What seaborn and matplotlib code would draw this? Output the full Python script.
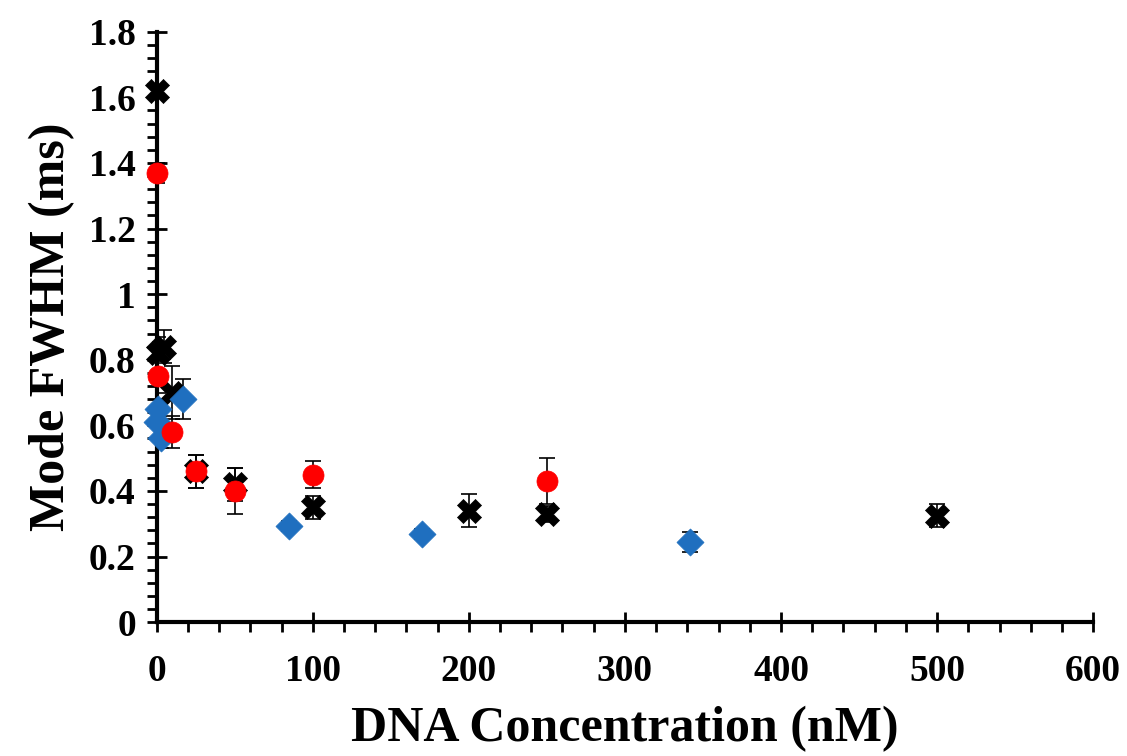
import matplotlib
matplotlib.use("Agg")
import matplotlib.pyplot as plt
import seaborn as sns
import pandas as pd
import numpy as np
from matplotlib.ticker import MultipleLocator

# Data
red_x = [0.1, 1, 10, 25, 50, 100, 250]
red_y = [1.37, 0.75, 0.58, 0.46, 0.40, 0.45, 0.43]
red_err = [0.03, 0.05, 0.05, 0.05, 0.07, 0.04, 0.07]

blk_x = [0.1, 1, 5, 10, 25, 50, 100, 200, 250, 500]
blk_y = [1.62, 0.82, 0.84, 0.70, 0.46, 0.42, 0.35, 0.34, 0.33, 0.325]
blk_err = [0.01, 0.05, 0.05, 0.08, 0.05, 0.05, 0.035, 0.05, 0.025, 0.035]

blu_x = [0.3, 1, 3, 17, 85, 170, 342]
blu_y = [0.61, 0.65, 0.56, 0.68, 0.293, 0.27, 0.245]
blu_err = [0.03, 0.03, 0.03, 0.06, 0.015, 0.015, 0.03]

x_ticks = [0, 100, 200, 300, 400, 500, 600]
y_ticks = [0, 0.2, 0.4, 0.6, 0.8, 1.0, 1.2, 1.4, 1.6, 1.8]
y_labels = ["0", "0.2", "0.4", "0.6", "0.8", "1", "1.2", "1.4", "1.6", "1.8"]

sns.set_style("white")
plt.rcParams['font.family'] = ['Liberation Serif', 'DejaVu Serif']
plt.rcParams['font.weight'] = 'bold'
plt.rcParams['text.color'] = 'black'
plt.rcParams['axes.labelcolor'] = 'black'

fig = plt.figure(figsize=(11.27, 7.56), dpi=100)
ax = fig.add_axes([0.139, 0.177, 0.831, 0.781])

df_b = pd.DataFrame({"x": blk_x, "y": blk_y})
df_d = pd.DataFrame({"x": blu_x, "y": blu_y})
df_r = pd.DataFrame({"x": red_x, "y": red_y})

ekw = dict(fmt='none', ecolor='black', elinewidth=1.2, capsize=6, capthick=1.2, zorder=2)
ax.errorbar(blk_x, blk_y, yerr=blk_err, **ekw)
ax.errorbar(blu_x, blu_y, yerr=blu_err, **ekw)
ax.errorbar(red_x, red_y, yerr=red_err, **ekw)

sns.scatterplot(data=df_b, x="x", y="y", marker="X", s=300, color="black",
                edgecolor="black", linewidth=0.5, ax=ax, zorder=3)
sns.scatterplot(data=df_d, x="x", y="y", marker="D", s=190, color="#1F6FBF",
                edgecolor="#1F6FBF", linewidth=0.5, ax=ax, zorder=4)
sns.scatterplot(data=df_r, x="x", y="y", marker="o", s=230, color="#FF0000",
                edgecolor="#FF0000", linewidth=0.5, ax=ax, zorder=5)

ax.set_xlim(0, 600)
ax.set_ylim(0, 1.8)
ax.set_xticks(x_ticks)
ax.set_xticklabels([str(v) for v in x_ticks])
ax.set_yticks(y_ticks)
ax.set_yticklabels(y_labels)
ax.xaxis.set_minor_locator(MultipleLocator(20))
ax.yaxis.set_minor_locator(MultipleLocator(0.04))

for s in ["top", "right"]:
    ax.spines[s].set_visible(False)
for s in ["left", "bottom"]:
    ax.spines[s].set_linewidth(3)
    ax.spines[s].set_color("black")

ax.tick_params(axis='both', which='both', bottom=True, left=True, top=False, right=False)
ax.tick_params(axis='both', which='major', direction='inout', length=14, width=2,
               labelsize=27, colors='black', pad=4)
ax.tick_params(axis='x', which='major', pad=16)
ax.tick_params(axis='y', which='major', pad=8)
ax.tick_params(axis='both', which='minor', direction='out', length=7, width=2, colors='black')
for lab in ax.get_xticklabels() + ax.get_yticklabels():
    lab.set_fontweight('bold')

ax.set_xlabel("DNA Concentration (nM)", fontsize=36, fontweight='bold', labelpad=12, color='black')
ax.set_ylabel("Mode FWHM (ms)", fontsize=36, fontweight='bold', labelpad=10, color='black')
ax.grid(False)

for line in ax.get_xaxis().get_ticklines() + ax.get_yaxis().get_ticklines():
    line.set_clip_on(False)
for c in ax.collections:
    c.set_clip_on(False)

fig.savefig("out.png", dpi=100)
